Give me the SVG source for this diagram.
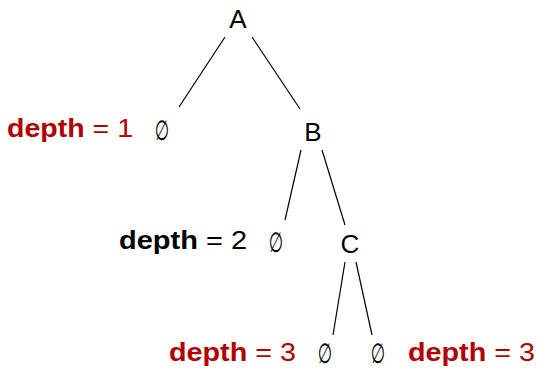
<svg xmlns="http://www.w3.org/2000/svg" width="537" height="370" viewBox="0 0 537 370">
<style>
.lbl{font-family:"Liberation Sans",Arial,sans-serif;font-size:26px;fill:#000;text-anchor:middle}
.es{font-family:"DejaVu Sans",sans-serif;font-size:22px;fill:#000;text-anchor:middle}
.dep{font-family:"Liberation Sans",Arial,sans-serif;font-size:26px}
.red{fill:#b00000}
.blk{fill:#000}
.b{font-weight:bold}
.edge{stroke:#000;stroke-width:1.2;fill:none}
</style>
<rect width="537" height="370" fill="#fff"/>
<g id="edges">
<line class="edge" x1="225" y1="37" x2="179" y2="107"/>
<line class="edge" x1="252" y1="37" x2="300" y2="109"/>
<line class="edge" x1="301" y1="150" x2="285" y2="220"/>
<line class="edge" x1="322" y1="150" x2="345" y2="225"/>
<line class="edge" x1="345" y1="262" x2="333" y2="335"/>
<line class="edge" x1="356" y1="262" x2="372" y2="335"/>
</g>
<g id="A"><text class="lbl" x="238" y="28">A</text></g>
<g id="B"><text class="lbl" x="313" y="141">B</text></g>
<g id="C"><text class="lbl" x="350" y="253">C</text></g>
<g id="empty1"><text class="es" transform="translate(162,140) scale(0.75,1.25)">∅</text></g>
<g id="empty2"><text class="es" transform="translate(276,252) scale(0.75,1.25)">∅</text></g>
<g id="empty3"><text class="es" transform="translate(325,363) scale(0.75,1.25)">∅</text></g>
<g id="empty4"><text class="es" transform="translate(378,363) scale(0.75,1.25)">∅</text></g>
<g id="depth1"><text class="dep red" x="7" y="137" textLength="126" lengthAdjust="spacingAndGlyphs"><tspan class="b">depth</tspan> = 1</text></g>
<g id="depth2"><text class="dep blk" x="119" y="249" textLength="128" lengthAdjust="spacingAndGlyphs"><tspan class="b">depth</tspan> = 2</text></g>
<g id="depth3a"><text class="dep red" x="169" y="361" textLength="127" lengthAdjust="spacingAndGlyphs"><tspan class="b">depth</tspan> = 3</text></g>
<g id="depth3b"><text class="dep red" x="408" y="361" textLength="127" lengthAdjust="spacingAndGlyphs"><tspan class="b">depth</tspan> = 3</text></g>
</svg>
